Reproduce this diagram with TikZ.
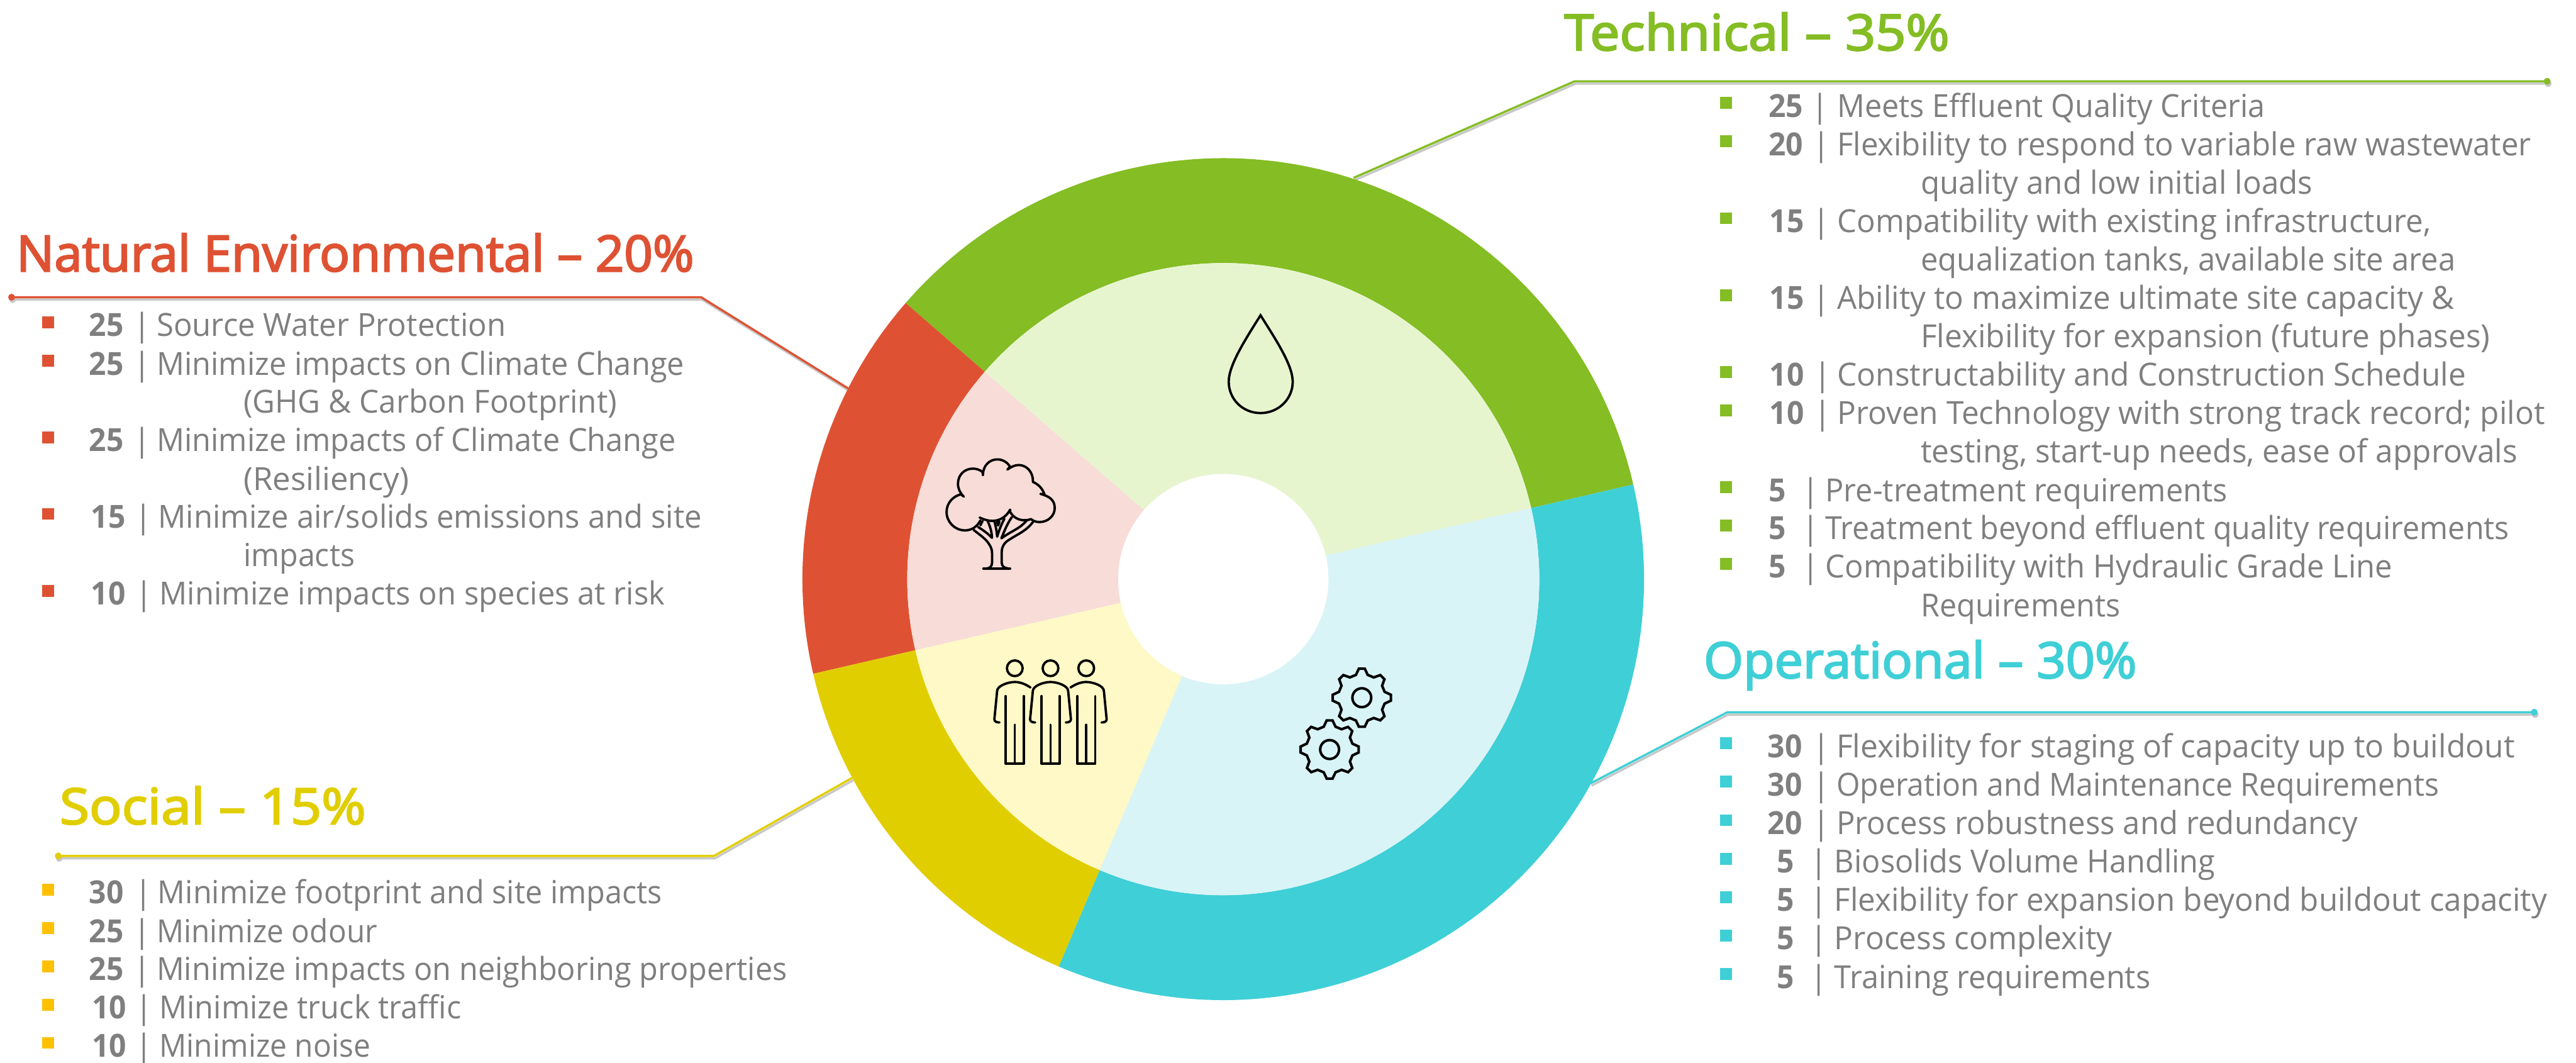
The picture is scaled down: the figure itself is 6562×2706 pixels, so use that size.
\documentclass[tikz,border=0pt]{standalone}
\usepackage{fontspec}
\usepackage{graphicx}
\usetikzlibrary{arrows.meta}
\setmainfont{Open Sans}
\newfontfamily\itemfont[FakeStretch=0.975]{Open Sans}
\newfontfamily\numfont[FakeStretch=0.95]{Open Sans}
\newfontfamily\titlefont[FakeBold=3]{Open Sans}
\definecolor{cgreen}{HTML}{84BD24}
\definecolor{cred}{HTML}{DE5233}
\definecolor{cyel}{HTML}{E1CE00}
\definecolor{cteal}{HTML}{3FCFD6}
\definecolor{lgreen}{HTML}{E7F5CF}
\definecolor{lred}{HTML}{F7DCD7}
\definecolor{lyel}{HTML}{FEF9C6}
\definecolor{lteal}{HTML}{D9F4F7}
\definecolor{bulyel}{HTML}{FFC000}
\definecolor{cgrey}{HTML}{7F7F7F}
\tikzset{
  bulletbox/.style={rectangle,minimum width=3pt,minimum height=3pt,inner sep=0pt,outer sep=0pt},
  crittext/.style={anchor=base west,inner sep=0pt,outer sep=0pt,text=cgrey,font=\itemfont\fontsize{8.1}{9}\selectfont},
  titletext/.style={anchor=base west,inner sep=0pt,outer sep=0pt,font=\titlefont\fontsize{12.7}{14}\selectfont},
  leader/.style={line width=.55pt,line join=miter,preaction={draw=black!22,line width=.55pt,transform canvas={shift={(.25pt,-.6pt)}}}},
  icon/.style={draw=black,line width=.6pt,line join=round,line cap=round,fill=none},
  gearline/.style={draw=black,line width=.65pt,line join=miter,fill=none}
}
% text set to reach a given right edge, from the text start \curtx
\newcommand\fit[2]{\resizebox{\dimexpr .1pt*\numexpr #1+4-\curtx\relax\relax}{\height}{#2}}
% name, colour, bullet x, digit x, bar x, text x, baseline y, number, text
\newcommand\critrow[9]{%
  \def\curtx{#6}%
  \node[bulletbox,fill=#2] (#1b) at (#3+15,#7-36) {};
  \node[crittext] (#1) at (#4,#7) {\makebox[\dimexpr .1pt*\numexpr #5-#4\relax\relax][l]{\numfont\bfseries #8}\makebox[0pt][c]{|}\hspace{\dimexpr .1pt*\numexpr #6-#5\relax\relax}#9};
}
\newcommand\critcont[4]{\def\curtx{#2}\node[crittext] (#1) at (#2,#3) {#4};}
\newcommand\ringpart[5]{%
  \fill[#5] (#1:#3) arc[start angle=#1,end angle=#2,radius=#3] -- (#2:#4) arc[start angle=#2,end angle=#1,radius=#4] -- cycle;
}
\newcommand\gearicon[1]{%
  \draw[gearline,shift={(#1)}] (104.5:6pt)
    \foreach \a in {90,45,0,-45,-90,-135,-180,-225} { -- (\a+14.5:6pt) -- (\a+5.8:7.44pt) -- (\a-5.8:7.44pt) -- (\a-14.5:6pt) } -- cycle;
  \draw[gearline,shift={(#1)}] (0,0) circle[radius=2.4pt];
}
\newcommand\personbody[3]{% centre x, has left arm, has right arm
  \begin{scope}[shift={(#1,0)}]
    \draw[icon] (0,1702) circle[radius=2pt];
    \draw[icon] (-23,1773) -- (-23,1945) -- (23,1945) -- (23,1773);
    \draw[icon] (0,1846) -- (0,1945);
    #2
    #3
  \end{scope}
}
\begin{document}
\begin{tikzpicture}[x=.1pt,y=-.1pt]
\useasboundingbox (0,0) rectangle (6562,2706);
\fill[white] (0,0) rectangle (6562,2706);
\coordinate (C) at (3116,1475);

% leader lines
\coordinate (techdot) at (6497,207);
\coordinate (techknee) at (4011,207);
\coordinate (techend) at (3448,453);
\coordinate (envdot) at (21,757);
\coordinate (envknee) at (1786,757);
\coordinate (envend) at (2160,989);
\coordinate (socdot) at (140,2180);
\coordinate (socknee) at (1819,2180);
\coordinate (socend) at (2171,1981);
\coordinate (opdot) at (6464,1814);
\coordinate (opknee) at (4400,1814);
\coordinate (opend) at (4052,1995);
\draw[leader,draw=cgreen,{Circle[length=1.7pt,width=1.7pt]}-] (techdot) -- (techknee) -- (techend);
\draw[leader,draw=cred,{Circle[length=1.7pt,width=1.7pt]}-] (envdot) -- (envknee) -- (envend);
\draw[leader,draw=cyel,{Circle[length=1.7pt,width=1.7pt]}-] (socdot) -- (socknee) -- (socend);
\draw[leader,draw=cteal,{Circle[length=1.7pt,width=1.7pt]}-] (opdot) -- (opknee) -- (opend);

% ring
\begin{scope}[shift={(C)}]
  \ringpart{13}{139}{107.2pt}{80.5pt}{cgreen}
  \ringpart{139}{193}{107.2pt}{80.5pt}{cred}
  \ringpart{193}{247}{107.2pt}{80.5pt}{cyel}
  \ringpart{247}{373}{107.2pt}{80.5pt}{cteal}
  \ringpart{13}{139}{80.5pt}{26.8pt}{lgreen}
  \ringpart{139}{193}{80.5pt}{26.8pt}{lred}
  \ringpart{193}{247}{80.5pt}{26.8pt}{lyel}
  \ringpart{247}{373}{80.5pt}{26.8pt}{lteal}
\end{scope}

% drop icon
\draw[icon,line join=miter] (3211,803) .. controls (3250,865) and (3293,930) .. (3293,972)
  .. controls (3293,1017) and (3256,1052) .. (3211,1052)
  .. controls (3166,1052) and (3130,1017) .. (3130,972)
  .. controls (3130,930) and (3172,865) .. cycle;

% gear icons
\coordinate (gearA) at (3469,1777);
\coordinate (gearB) at (3387,1909);
\gearicon{gearA}
\gearicon{gearB}

% people icon
\personbody{2585}{\draw[icon] (40,1751) .. controls (25,1741) and (12,1737) .. (0,1737) .. controls (-18,1737) and (-45,1747) .. (-45,1760) -- (-52,1832) .. controls (-52,1838) and (-46,1840) .. (-39,1840);}{}
\personbody{2676}{\draw[icon] (-39,1840) .. controls (-46,1840) and (-52,1838) .. (-52,1832) -- (-45,1760) .. controls (-45,1747) and (-18,1737) .. (0,1737) .. controls (18,1737) and (45,1747) .. (45,1760) -- (52,1832) .. controls (52,1838) and (46,1840) .. (39,1840);}{}
\personbody{2767}{\draw[icon] (-40,1751) .. controls (-25,1741) and (-12,1737) .. (0,1737) .. controls (18,1737) and (45,1747) .. (45,1760) -- (52,1832) .. controls (52,1838) and (46,1840) .. (39,1840);}{}

% tree icon, in a local grid
\begin{scope}[shift={(2350,1100)},x=.03827pt,y=-.0574pt]
  \draw[icon] (385,393) .. controls (360,425) and (320,437) .. (283,437) .. controls (215,437) and (160,400) .. (160,355) .. controls (160,315) and (205,285) .. (255,277) -- (275,287)
    .. controls (250,272) and (236,252) .. (236,230) .. controls (236,190) and (280,163) .. (335,163) .. controls (358,163) and (382,168) .. (400,178) -- (402,192)
    .. controls (402,150) and (445,122) .. (497,122) .. controls (535,122) and (565,135) .. (583,155) -- (565,167)
    .. controls (590,155) and (615,147) .. (640,147) .. controls (695,147) and (738,180) .. (735,222)
    .. controls (770,232) and (798,250) .. (812,278) -- (785,275)
    .. controls (840,285) and (880,300) .. (880,338) .. controls (880,372) and (835,400) .. (780,400) .. controls (760,400) and (740,397) .. (722,387)
    .. controls (710,390) and (695,392) .. (680,392) .. controls (640,392) and (605,380) .. (583,355) -- (583,345)
    .. controls (560,375) and (515,395) .. (465,395) .. controls (435,395) and (405,388) .. (380,380);
  \draw[icon] (340,435) .. controls (385,458) and (425,478) .. (440,495) .. controls (455,510) and (463,520) .. (463,540) -- (463,580) .. controls (463,598) and (445,606) .. (425,606);
  \draw[icon] (405,607) -- (583,607);
  \draw[icon] (735,400) .. controls (690,440) and (630,455) .. (585,475) .. controls (550,488) and (527,505) .. (527,535) -- (527,580) .. controls (527,595) and (545,605) .. (565,605);
  \draw[icon] (370,422) .. controls (400,435) and (435,450) .. (462,470) .. controls (462,445) and (450,420) .. (435,398);
  \draw[icon] (385,415) -- (400,395);
  \draw[icon] (480,400) .. controls (490,425) and (495,450) .. (497,465) .. controls (510,435) and (525,410) .. (545,385);
  \draw[icon] (497,400) -- (503,415) -- (512,398);
  \draw[icon] (595,378) .. controls (565,405) and (545,440) .. (525,472) .. controls (570,450) and (620,435) .. (650,420) .. controls (670,410) and (685,400) .. (695,392);
\end{scope}

% titles
\node[titletext,text=cgreen] (techtitle) at (3985,128) {\resizebox{98.1pt}{\height}{Technical – 35\%}};
\node[titletext,text=cred] (envtitle) at (42,691) {\resizebox{172.6pt}{\height}{Natural Environmental – 20\%}};
\node[titletext,text=cyel] (soctitle) at (152,2099) {\resizebox{78pt}{\height}{Social – 15\%}};
\node[titletext,text=cteal] (optitle) at (4340,1727) {\resizebox{110.3pt}{\height}{Operational – 30\%}};

% technical
\critrow{ta}{cgreen}{4382}{4505}{4637}{4680}{298}{25}{\fit{5766}{Meets Effluent Quality Criteria}}
\critrow{tb}{cgreen}{4382}{4505}{4640}{4680}{396}{20}{\fit{6444}{Flexibility to respond to variable raw wastewater}}
\critcont{tbc}{4893}{494}{\fit{5887}{quality and low initial loads}}
\critrow{tc}{cgreen}{4382}{4508}{4640}{4680}{592}{15}{\fit{6188}{Compatibility with existing infrastructure,}}
\critcont{tcc}{4893}{690}{\fit{6251}{equalization tanks, available site area}}
\critrow{td}{cgreen}{4382}{4508}{4640}{4680}{788}{15}{\fit{6248}{Ability to maximize ultimate site capacity \&}}
\critcont{tdc}{4893}{885}{\fit{6339}{Flexibility for expansion (future phases)}}
\critrow{te}{cgreen}{4382}{4508}{4643}{4680}{983}{10}{\fit{6278}{Constructability and Construction Schedule}}
\critrow{tf}{cgreen}{4382}{4508}{4643}{4680}{1081}{10}{\fit{6479}{Proven Technology with strong track record; pilot}}
\critcont{tfc}{4893}{1179}{\fit{6409}{testing, start-up needs, ease of approvals}}
\critrow{tg}{cgreen}{4382}{4505}{4613}{4650}{1277}{5}{\fit{5670}{Pre-treatment requirements}}
\critrow{th}{cgreen}{4382}{4505}{4613}{4650}{1374}{5}{\fit{6388}{Treatment beyond effluent quality requirements}}
\critrow{ti}{cgreen}{4382}{4505}{4613}{4650}{1472}{5}{\fit{6090}{Compatibility with Hydraulic Grade Line}}
\critcont{tic}{4893}{1570}{\fit{5397}{Requirements}}

% natural environmental
\critrow{ea}{cred}{107}{227}{362}{399}{857}{25}{\fit{1285}{Source Water Protection}}
\critrow{eb}{cred}{107}{227}{362}{399}{955}{25}{\fit{1739}{Minimize impacts on Climate Change}}
\critcont{ebc}{620}{1052}{\fit{1568}{(GHG \& Carbon Footprint)}}
\critrow{ec}{cred}{107}{227}{362}{399}{1150}{25}{\fit{1718}{Minimize impacts of Climate Change}}
\critcont{ecc}{620}{1248}{\fit{1038}{(Resiliency)}}
\critrow{ed}{cred}{107}{232}{365}{403}{1345}{15}{\fit{1784}{Minimize air/solids emissions and site}}
\critcont{edc}{620}{1443}{\fit{900}{impacts}}
\critrow{ee}{cred}{107}{232}{367}{406}{1541}{10}{\fit{1690}{Minimize impacts on species at risk}}

% social
\critrow{sa}{bulyel}{107}{227}{365}{402}{2302}{30}{\fit{1683}{Minimize footprint and site impacts}}
\critrow{sb}{bulyel}{107}{227}{362}{399}{2400}{25}{\fit{957}{Minimize odour}}
\critrow{sc}{bulyel}{107}{227}{362}{399}{2497}{25}{\fit{2001}{Minimize impacts on neighboring properties}}
\critrow{sd}{bulyel}{107}{234}{367}{406}{2595}{10}{\fit{1171}{Minimize truck traffic}}
\critrow{se}{bulyel}{107}{234}{367}{406}{2692}{10}{\fit{940}{Minimize noise}}

% operational
\critrow{oa}{cteal}{4382}{4503}{4639}{4678}{1929}{30}{\fit{6402}{Flexibility for staging of capacity up to buildout}}
\critrow{ob}{cteal}{4382}{4503}{4639}{4678}{2027}{30}{\fit{6209}{Operation and Maintenance Requirements}}
\critrow{oc}{cteal}{4382}{4503}{4639}{4678}{2125}{20}{\fit{6002}{Process robustness and redundancy}}
\critrow{od}{cteal}{4382}{4527}{4634}{4673}{2223}{5}{\fit{5639}{Biosolids Volume Handling}}
\critrow{oe}{cteal}{4382}{4527}{4634}{4673}{2321}{5}{\fit{6484}{Flexibility for expansion beyond buildout capacity}}
\critrow{of}{cteal}{4382}{4527}{4634}{4673}{2419}{5}{\fit{5377}{Process complexity}}
\critrow{og}{cteal}{4382}{4527}{4634}{4673}{2517}{5}{\fit{5474}{Training requirements}}
\end{tikzpicture}
\end{document}
